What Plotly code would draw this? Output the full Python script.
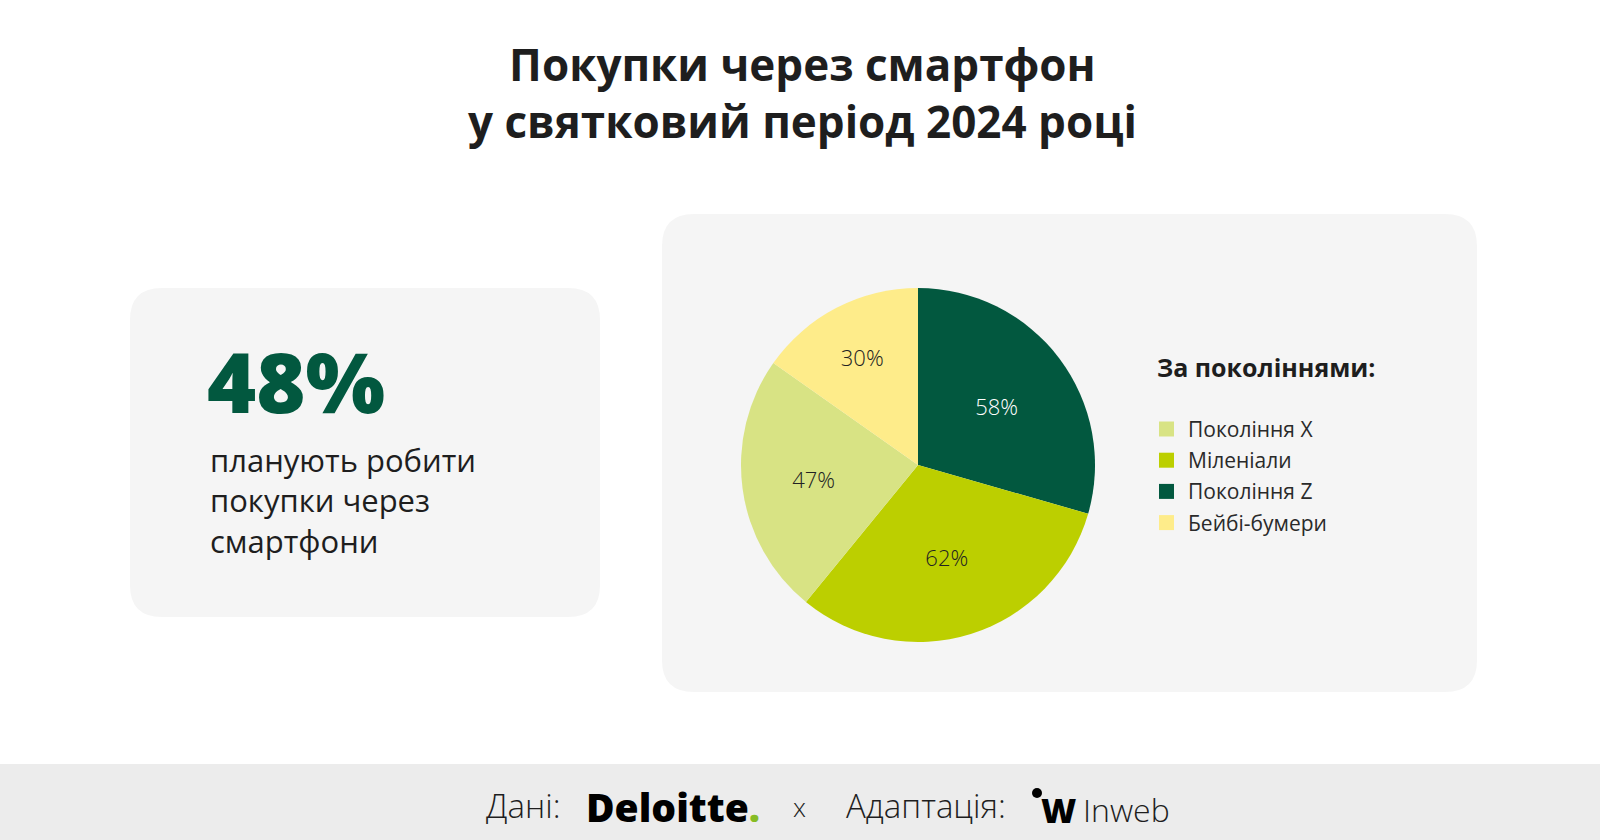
import plotly.graph_objects as go

W, H = 1600, 840

# ---- data ----
title_lines = ["Покупки через смартфон", "у святковий період 2024 році"]
headline_value = "48%"
headline_text = ["планують робити", "покупки через", "смартфони"]

pie_labels = ["Покоління Z", "Міленіали", "Покоління X", "Бейбі-бумери"]
pie_values = [58, 62, 47, 30]
pie_colors = ["#02583f", "#bccf00", "#d8e384", "#feec8a"]
pie_text_colors = ["#ffffff", "#222222", "#222222", "#222222"]

legend_title = "За поколіннями:"
legend_order = ["Покоління X", "Міленіали", "Покоління Z", "Бейбі-бумери"]

FONT = "Open Sans"
DARK = "#1e1e1e"
GREEN = "#02583f"


def px(x):
    return x / W


def py(y):
    return 1 - y / H


def rrect(x0, y0, x1, y1, r):
    pts = [
        ("M", [(x0 + r, y0)]), ("L", [(x1 - r, y0)]), ("Q", [(x1, y0), (x1, y0 + r)]),
        ("L", [(x1, y1 - r)]), ("Q", [(x1, y1), (x1 - r, y1)]), ("L", [(x0 + r, y1)]),
        ("Q", [(x0, y1), (x0, y1 - r)]), ("L", [(x0, y0 + r)]), ("Q", [(x0, y0), (x0 + r, y0)]),
    ]
    s = ""
    for cmd, ps in pts:
        s += cmd + " " + " ".join(f"{px(a):.6f},{py(b):.6f}" for a, b in ps) + " "
    return s + "Z"


shapes = [
    dict(type="path", xref="paper", yref="paper", path=rrect(130, 288, 600, 617, 32),
         fillcolor="#f5f5f5", line=dict(width=0), layer="below"),
    dict(type="path", xref="paper", yref="paper", path=rrect(662, 214, 1477, 692, 32),
         fillcolor="#f5f5f5", line=dict(width=0), layer="below"),
    dict(type="rect", xref="paper", yref="paper", x0=0, x1=1, y0=py(840), y1=py(764),
         fillcolor="#ececec", line=dict(width=0), layer="below"),
]

annotations = []


def ann(text, x, y, size, color=DARK, weight=400, xanchor="left", family=FONT):
    annotations.append(dict(
        text=text, x=px(x), y=py(y), xref="paper", yref="paper",
        xanchor=xanchor, yanchor="middle", align=xanchor if xanchor != "center" else "center",
        showarrow=False,
        font=dict(family=family, size=size, color=color, weight=weight),
    ))


# title
ann("<br>".join(title_lines), 803, 92, 44, DARK, 700, "center")

# left card
ann(headline_value, 205, 381, 84, GREEN, 800)
ann("<br>".join(headline_text), 208, 500, 31, DARK, 400)

# legend (custom, in the reference's order)
ann(legend_title, 1155, 367, 25, DARK, 700)
for i, lab in enumerate(legend_order):
    yc = 429 + i * 31.2
    col = pie_colors[pie_labels.index(lab)]
    shapes.append(dict(type="rect", xref="paper", yref="paper",
                       x0=px(1159), x1=px(1174), y0=py(yc + 7.5), y1=py(yc - 7.5),
                       fillcolor=col, line=dict(width=0)))
    ann(lab, 1186, yc, 21, "#2a2a2a", 400)

# footer
ann("Дані:", 484, 805, 33, DARK, 300)
ann("Deloitte<span style='color:#86bc25'>.</span>", 584, 806, 39, "#000000", 800)
ann("x", 799, 807, 26, DARK, 300, "center")
ann("Адаптація:", 844, 805, 33, DARK, 300)
ann("W", 1058, 810, 34, "#000000", 800, "center")
ann("Inweb", 1081, 809, 32, DARK, 300)
shapes.append(dict(type="circle", xref="paper", yref="paper",
                   x0=px(1032), x1=px(1042), y0=py(798), y1=py(788),
                   fillcolor="#000000", line=dict(width=0)))

pie = go.Pie(
    labels=pie_labels, values=pie_values,
    marker=dict(colors=pie_colors, line=dict(width=0)),
    sort=False, direction="clockwise", rotation=0,
    texttemplate="%{value}%", textposition="inside",
    insidetextorientation="horizontal",
    textfont=dict(family=FONT, size=22, color=pie_text_colors, weight=300),
    hoverinfo="label+value",
    domain=dict(x=[px(741), px(1095)], y=[py(642), py(288)]),
    showlegend=False,
)

fig = go.Figure(pie)
fig.update_layout(
    width=W, height=H, margin=dict(l=0, r=0, t=0, b=0),
    paper_bgcolor="#ffffff", plot_bgcolor="#ffffff",
    shapes=shapes, annotations=annotations, showlegend=False,
)
fig.write_html("out.html")
